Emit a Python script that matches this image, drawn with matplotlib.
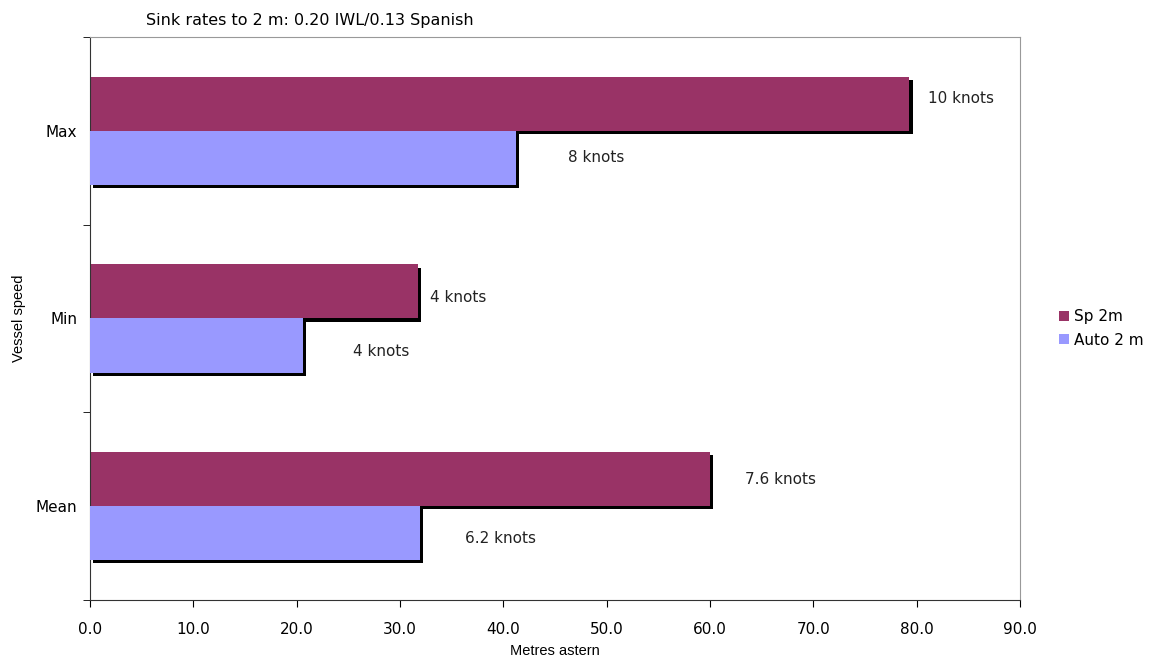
import numpy as np
import matplotlib.pyplot as plt
import matplotlib.patheffects as pe
from matplotlib.patches import Patch

categories = ['Max', 'Min', 'Mean']
sp_2m = [79.3, 31.7, 60.0]      # metres astern, Spanish sink rate
auto_2m = [41.2, 20.6, 31.9]    # metres astern, IWL sink rate
sp_speed = ['10 knots', '4 knots', '7.6 knots']
auto_speed = ['8 knots', '4 knots', '6.2 knots']
# where the speed notes sit (x in metres, y in category units)
sp_label_x = [81.1, 32.9, 63.4]
sp_label_y = [-0.17, 0.89, 1.856]
auto_label_x = [46.3, 25.5, 36.3]
auto_label_y = [0.144, 1.178, 2.171]

c_sp = '#993366'
c_auto = '#9999FF'

fig = plt.figure(figsize=(11.49, 6.57), dpi=100)
ax = fig.add_axes([0.0783, 0.0868, 0.8094, 0.8569])

y = np.arange(len(categories))
h = 0.288
shadow = [pe.SimplePatchShadow(offset=(2.3, -2.3), shadow_rgbFace='black', alpha=1.0), pe.Normal()]

ax.barh(y - h / 2, sp_2m, height=h, color=c_sp, path_effects=shadow, zorder=2)
ax.barh(y + h / 2, auto_2m, height=h, color=c_auto, path_effects=shadow, zorder=3)

for i in range(len(categories)):
    ax.text(sp_label_x[i], sp_label_y[i], sp_speed[i], va='center', ha='left', fontsize=11, color='#222222')
    ax.text(auto_label_x[i], auto_label_y[i], auto_speed[i], va='center', ha='left', fontsize=11, color='#222222')

ax.set_xlim(0, 90)
ax.set_ylim(2.5, -0.5)
ax.set_xticks(np.arange(0, 91, 10))
ax.set_xticklabels(['%.1f' % v for v in np.arange(0, 91, 10)], family='DejaVu Sans', fontsize=11)
ax.set_yticks(y)
ax.set_yticklabels(categories, family='DejaVu Sans', fontsize=11)
ax.set_yticks(np.arange(-0.5, 3, 1), minor=True)
ax.tick_params(axis='y', which='major', length=0, pad=9)
ax.tick_params(axis='y', which='minor', length=5, direction='out')
ax.tick_params(axis='x', length=5, direction='out', pad=11)

for s in ['left', 'bottom']:
    ax.spines[s].set_color('#333333')
for s in ['top', 'right']:
    ax.spines[s].set_color('#999999')

ax.set_xlabel('Metres astern', family='Liberation Sans', fontsize=10.5, labelpad=5)
ax.set_ylabel('Vessel speed', family='Liberation Sans', fontsize=10.5, labelpad=7)

fig.text(146 / 1149, 1 - 20 / 657, 'Sink rates to 2 m: 0.20 IWL/0.13 Spanish', ha='left', va='center', fontsize=11.5)

handles = [Patch(facecolor=c_sp), Patch(facecolor=c_auto)]
ax.legend(handles, ['Sp 2m', 'Auto 2 m'], loc='center left', bbox_to_anchor=(1051 / 1149, 0.5),
          bbox_transform=fig.transFigure, frameon=False, fontsize=11, handlelength=0.65,
          handleheight=0.65, handletextpad=0.35, labelspacing=0.55, borderpad=0)

plt.savefig('out.png', dpi=100)
